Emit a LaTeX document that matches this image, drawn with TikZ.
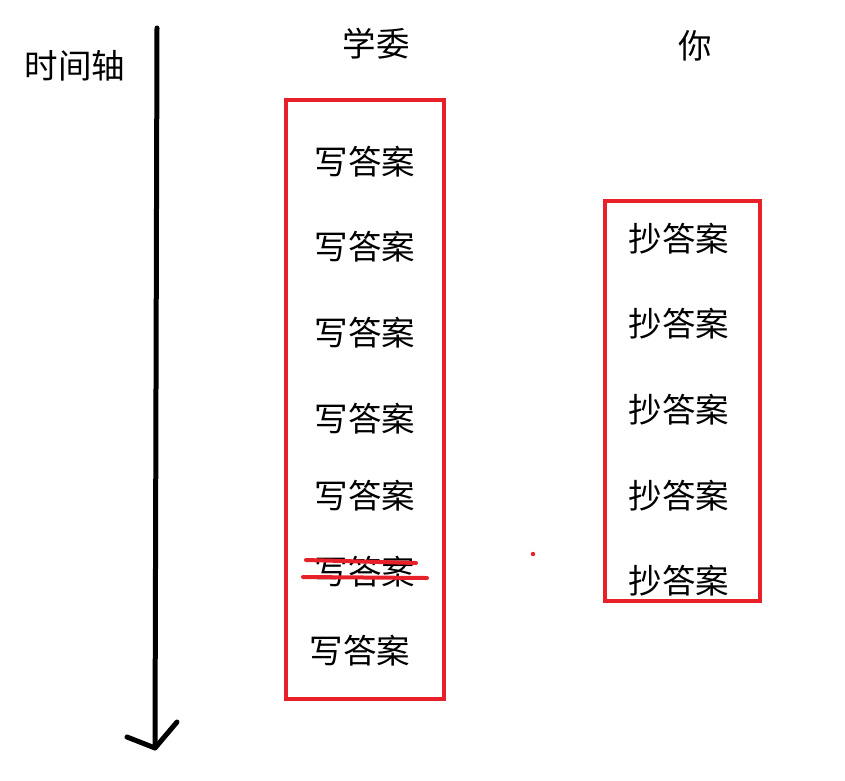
\documentclass[tikz,border=0pt]{standalone}
\usepackage{fontspec}
\newfontfamily\cjk{Noto Sans CJK SC}
\definecolor{boxred}{HTML}{E8202A}
\begin{document}
\begin{tikzpicture}[x=1pt,y=-1pt,
  lbl/.style={font=\cjk\fontsize{33.5}{33.5}\selectfont, inner sep=0pt},
  redbox/.style={draw=boxred, line width=4pt},
  axis/.style={line width=5pt, line cap=round, black}]
\useasboundingbox (0,0) rectangle (845,780);
% time axis
\coordinate (top) at (157,28);
\coordinate (bot) at (155,748);
\coordinate (al) at (127,737);
\coordinate (ar) at (177,722);
\draw[axis] (top) -- (bot);
\draw[axis, line join=round] (al) -- (bot) -- (ar);
\node[lbl] (axislbl) at (75,66) {时间轴};
% headers
\node[lbl] (xw) at (376,44) {学委};
\node[lbl] (ni) at (695,46) {你};
% boxes
\draw[redbox] (286,100) rectangle (444,699);
\draw[redbox] (605,201) rectangle (760,601);
% left column
\node[lbl] (w1) at (365,162) {写答案};
\node[lbl] (w2) at (365,247) {写答案};
\node[lbl] (w3) at (365,333) {写答案};
\node[lbl] (w4) at (365,419) {写答案};
\node[lbl] (w5) at (365,496) {写答案};
\node[lbl] (w6) at (365,572) {写答案};
\node[lbl] (w7) at (360,651) {写答案};
% strike-through
\coordinate (s1a) at (306,560);
\coordinate (s1b) at (416,563);
\coordinate (s2a) at (303,577);
\coordinate (s2b) at (427,578);
\draw[boxred, line width=4pt, line cap=round] (s1a) -- (s1b);
\draw[boxred, line width=4pt, line cap=round] (s2a) -- (s2b);
% right column
\node[lbl] (c1) at (679,239) {抄答案};
\node[lbl] (c2) at (679,324) {抄答案};
\node[lbl] (c3) at (679,410) {抄答案};
\node[lbl] (c4) at (679,496) {抄答案};
\node[lbl] (c5) at (679,581) {抄答案};
% stray dot
\fill[boxred] (533,554) circle (2.2);
\end{tikzpicture}
\end{document}
